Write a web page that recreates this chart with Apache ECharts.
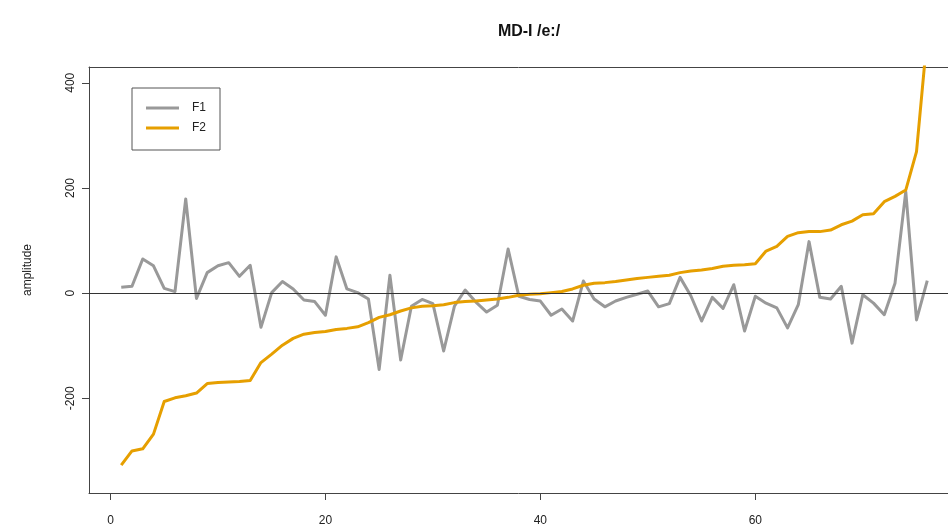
<!DOCTYPE html>
<html>
<head>
<meta charset="utf-8">
<title>MD-I /e:/</title>
<script src="https://cdn.jsdelivr.net/npm/echarts@6/dist/echarts.min.js"></script>
<style>
  html, body { margin: 0; padding: 0; background: #ffffff; }
  #chart { width: 948px; height: 530px; }
</style>
</head>
<body>
<div id="chart"></div>
<script>
// Sample positions 1..76
const positions = [
  1, 2, 3, 4, 5, 6, 7, 8, 9, 10, 11, 12, 13, 14, 15, 16, 17, 18, 19, 20,
  21, 22, 23, 24, 25, 26, 27, 28, 29, 30, 31, 32, 33, 34, 35, 36, 37, 38, 39, 40,
  41, 42, 43, 44, 45, 46, 47, 48, 49, 50, 51, 52, 53, 54, 55, 56, 57, 58, 59, 60,
  61, 62, 63, 64, 65, 66, 67, 68, 69, 70, 71, 72, 73, 74, 75, 76
];

// First formant amplitude
const f1 = [
  11, 13, 65, 52, 9, 3, 179, -10, 39, 52, 58, 32, 53, -65, 1, 22, 8, -13, -16, -42,
  69, 8, 1, -11, -145, 34, -127, -25, -12, -20, -110, -25, 6, -17, -36, -23, 84, -6, -12, -15,
  -42, -30, -53, 23, -11, -26, -15, -8, -2, 4, -26, -20, 30, -5, -53, -8, -29, 16, -72, -6,
  -19, -28, -66, -22, 98, -8, -11, 13, -95, -3, -19, -41, 19, 193, -51, 24
];

// Second formant amplitude
const f2 = [
  -327, -300, -296, -268, -206, -199, -195, -190, -172, -170, -169, -168, -166, -132, -116, -99, -86, -78, -75, -73,
  -69, -67, -64, -56, -46, -41, -34, -28, -25, -24, -22, -18, -16, -15, -13, -11, -8, -4, -2, -1,
  1, 3, 8, 15, 19, 20, 22, 25, 28, 30, 32, 34, 39, 42, 44, 47, 51, 53, 54, 56,
  80, 89, 108, 115, 117, 117, 120, 130, 137, 149, 151, 174, 184, 196, 269, 490
];

const xTicks = [0, 20, 40, 60];
const yTicks = [-200, 0, 200, 400];

const seriesNames = ['F1', 'F2'];
const titleText = 'MD-I /e:/';
const yTitle = 'amplitude';

const pair = (vals) => positions.map((p, i) => [p, vals[i]]);

const FONT = 'Liberation Sans, Arial, sans-serif';
const FRAME = '#444444';
const ZERO = '#333333';

const chart = echarts.init(document.getElementById('chart'), null, { renderer: 'canvas' });

chart.setOption({
  animation: false,
  backgroundColor: '#ffffff',
  title: {
    text: titleText,
    left: 524,
    top: 19,
    textAlign: 'center',
    textStyle: { fontFamily: FONT, fontWeight: 'bold', fontSize: 16, color: '#111111' }
  },
  grid: {
    left: 89,
    top: 67,
    right: 0,
    bottom: 37,
    show: false
  },
  legend: {
    orient: 'vertical',
    left: 132,
    top: 88,
    data: seriesNames,
    icon: 'rect',
    itemWidth: 33,
    itemHeight: 3,
    itemGap: 6,
    padding: [13, 14, 15, 14],
    borderColor: '#555555',
    borderWidth: 1,
    textStyle: { fontFamily: FONT, fontSize: 12, color: '#222222', padding: [0, 0, 0, 8], lineHeight: 14 }
  },
  xAxis: [
    {
      type: 'value',
      position: 'bottom',
      min: -2,
      max: 77.93,
      splitLine: { show: false },
      axisLine: { show: true, onZero: false, lineStyle: { color: FRAME, width: 1 } },
      axisTick: {
        show: true,
        inside: false,
        length: 7,
        customValues: xTicks,
        lineStyle: { color: FRAME, width: 1 }
      },
      axisLabel: {
        customValues: xTicks,
        margin: 22,
        fontFamily: FONT,
        fontSize: 12,
        color: '#222222'
      }
    },
    {
      // top edge of the plot frame
      type: 'value',
      position: 'top',
      min: -2,
      max: 77.93,
      splitLine: { show: false },
      axisLine: { show: true, onZero: false, lineStyle: { color: FRAME, width: 1 } },
      axisTick: { show: false },
      axisLabel: { show: false }
    }
  ],
  yAxis: {
    type: 'value',
    min: -380,
    max: 430,
    splitLine: { show: false },
    axisLine: { show: true, onZero: false, lineStyle: { color: FRAME, width: 1 } },
    axisTick: {
      show: true,
      inside: false,
      length: 7,
      customValues: yTicks,
      lineStyle: { color: FRAME, width: 1 }
    },
    axisLabel: {
      customValues: yTicks,
      rotate: 90,
      margin: 12,
      fontFamily: FONT,
      fontSize: 12,
      color: '#222222'
    }
  },
  graphic: [
    {
      type: 'text',
      x: 28,
      y: 270,
      rotation: Math.PI / 2,
      style: {
        text: yTitle,
        fontFamily: FONT,
        fontSize: 12,
        fill: '#222222',
        align: 'center',
        verticalAlign: 'middle'
      }
    }
  ],
  series: [
    {
      name: seriesNames[0],
      type: 'line',
      xAxisIndex: 0,
      data: pair(f1),
      showSymbol: false,
      symbol: 'none',
      clip: true,
      z: 2,
      lineStyle: { color: '#999999', width: 3, join: 'round' },
      itemStyle: { color: '#999999' },
      markLine: {
        silent: true,
        symbol: 'none',
        label: { show: false },
        lineStyle: { color: ZERO, width: 1, type: 'solid' },
        data: [{ yAxis: 0 }]
      }
    },
    {
      name: seriesNames[1],
      type: 'line',
      xAxisIndex: 0,
      data: pair(f2),
      showSymbol: false,
      symbol: 'none',
      clip: true,
      z: 3,
      lineStyle: { color: '#E69F00', width: 3, join: 'round' },
      itemStyle: { color: '#E69F00' }
    }
  ]
});
</script>
</body>
</html>
